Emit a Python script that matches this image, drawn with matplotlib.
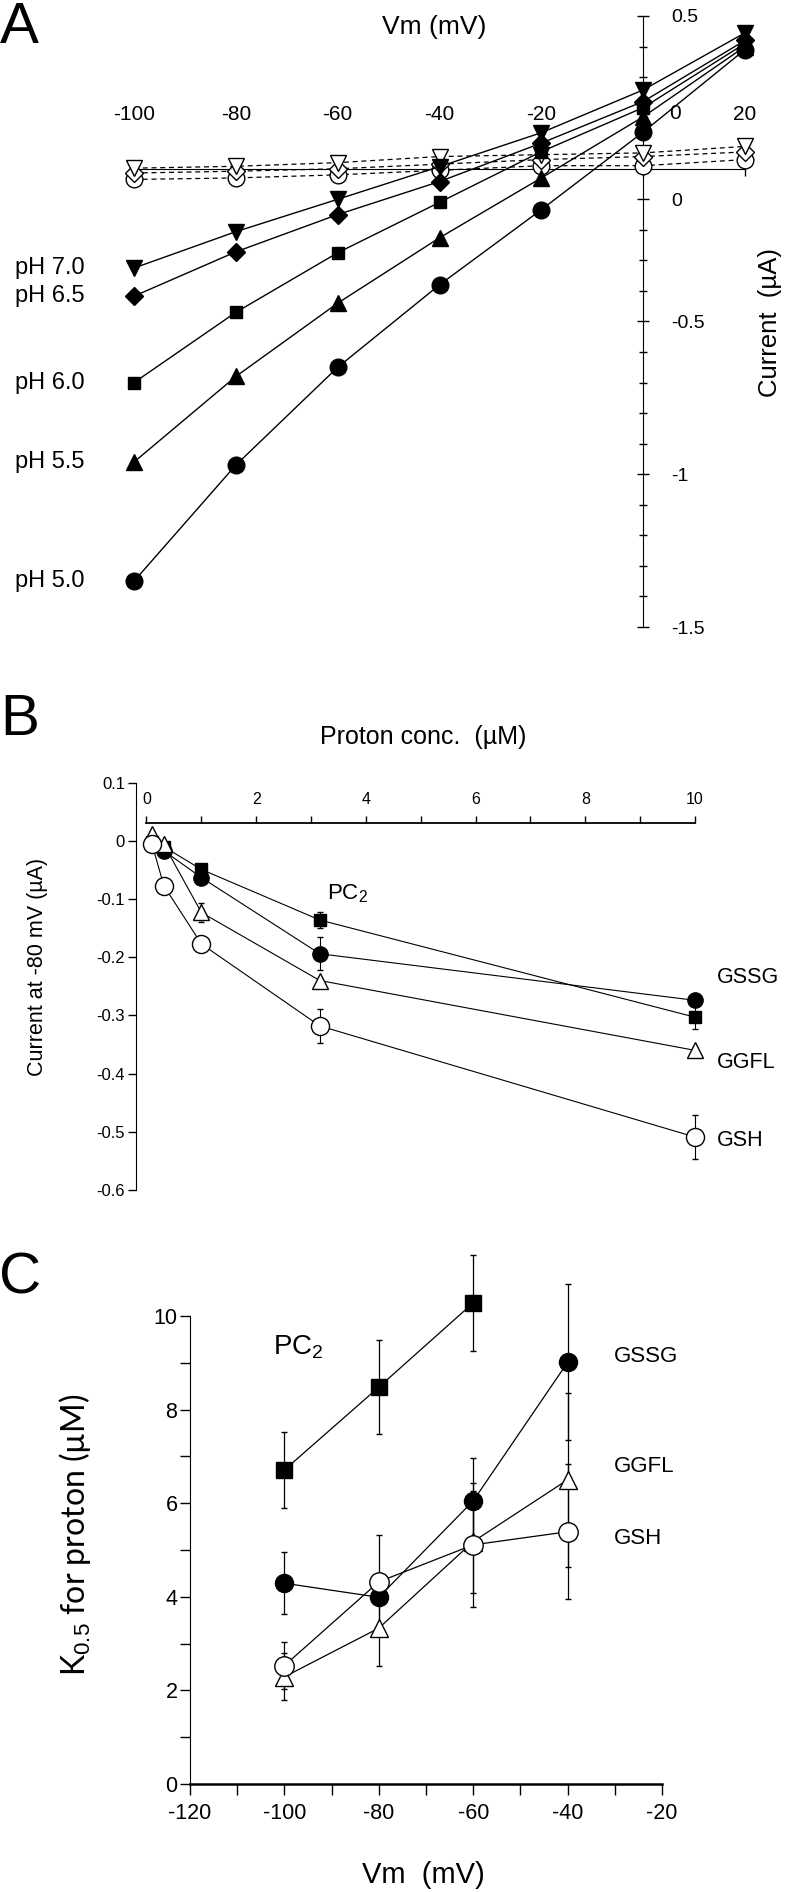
import numpy as np
import matplotlib
matplotlib.use("Agg")
import matplotlib.pyplot as plt
from matplotlib import font_manager as fm
from matplotlib.ticker import MultipleLocator, FixedLocator

# ---- panel A: I-V curves at different pH ----
vm = [-100, -80, -60, -40, -20, 0, 20]
ph_labels = ["pH 7.0", "pH 6.5", "pH 6.0", "pH 5.5", "pH 5.0"]
ph70 = [-0.325, -0.206, -0.100, 0.007, 0.118, 0.258, 0.445]
ph65 = [-0.417, -0.272, -0.150, -0.042, 0.084, 0.220, 0.420]
ph60 = [-0.700, -0.470, -0.275, -0.110, 0.056, 0.200, 0.410]
ph55 = [-0.960, -0.680, -0.440, -0.226, -0.030, 0.170, 0.400]
ph50 = [-1.350, -0.970, -0.650, -0.380, -0.134, 0.120, 0.390]
ctrl_a = [0.002, 0.008, 0.020, 0.040, 0.046, 0.052, 0.073]
ctrl_b = [-0.014, -0.008, 0.000, 0.015, 0.030, 0.040, 0.055]
ctrl_c = [-0.035, -0.030, -0.020, -0.005, 0.010, 0.010, 0.030]

# ---- panel B: current at -80 mV vs proton conc ----
proton = [0.1, 0.316, 1.0, 3.16, 10.0]
b_pc2 = [-0.002, -0.010, -0.049, -0.136, -0.303]
b_pc2_err = [0.0, 0.0, 0.008, 0.013, 0.020]
b_gssg = [-0.003, -0.017, -0.063, -0.194, -0.274]
b_gssg_err = [0.0, 0.0, 0.008, 0.028, 0.010]
b_ggfl = [0.011, -0.006, -0.123, -0.240, -0.360]
b_ggfl_err = [0.0, 0.0, 0.016, 0.0, 0.0]
b_gsh = [-0.005, -0.077, -0.177, -0.318, -0.509]
b_gsh_err = [0.0, 0.0, 0.0, 0.029, 0.038]

# ---- panel C: K0.5 for proton vs Vm ----
vm_c = [-100, -80, -60, -40]
c_pc2 = [6.71, 8.48, 10.28]
c_pc2_err = [0.82, 1.00, 1.03]
c_gssg = [4.29, 3.99, 6.05, 9.01]
c_gssg_err = [0.66, 0.15, 0.92, 1.67]
c_ggfl = [2.29, 3.33, 5.18, 6.50]
c_ggfl_err = [0.50, 0.80, 1.09, 1.86]
c_gsh = [2.53, 4.32, 5.11, 5.39]
c_gsh_err = [0.50, 1.00, 1.33, 1.44]

W, H = 787, 1892

names = {f.name for f in fm.fontManager.ttflist}
arial = "Liberation Sans" if "Liberation Sans" in names else "DejaVu Sans"
plt.rcParams["font.family"] = [arial, "DejaVu Sans"]
plt.rcParams["mathtext.fontset"] = "custom"
plt.rcParams["mathtext.rm"] = arial
plt.rcParams["axes.unicode_minus"] = False


def axrect(l, r, t, b):
    return [l / W, 1 - b / H, (r - l) / W, (b - t) / H]


def ftext(x, y, s, **kw):
    fig.text(x / W, 1 - y / H, s, **kw)


fig = plt.figure(figsize=(W / 100, H / 100), dpi=100)

# ================= A =================
axA = fig.add_axes(axrect(134, 745, 16, 627))
axA.set_xlim(-100, 20)
axA.set_ylim(-1.5, 0.5)
for sp in ["left", "bottom"]:
    axA.spines[sp].set_visible(False)
axA.spines["right"].set_position(("data", 0))
axA.spines["top"].set_position(("data", 0))
axA.spines["top"].set_bounds(-100, 20)
axA.patch.set_visible(False)
axA.xaxis.set_ticks_position("top")
axA.yaxis.set_ticks_position("right")
axA.set_xticks(vm)
axA.set_xticklabels(["-100", "-80", "-60", "-40", "-20", "", "20"])
axA.tick_params(axis="x", direction="in", length=5, width=1, pad=32, labelsize=15)
axA.yaxis.set_major_locator(FixedLocator([0.5, -0.1, -0.5, -1.0, -1.5]))
axA.set_yticklabels(["0.5", "0", "-0.5", "-1", "-1.5"])
axA.yaxis.set_minor_locator(MultipleLocator(0.1))
axA.tick_params(axis="y", which="major", direction="inout", length=8, width=1, pad=16, labelsize=14)
axA.tick_params(axis="y", which="minor", direction="inout", length=6, width=1)
axA.text(6.3, 0.182, "0", ha="center", va="center", fontsize=15)

for vals, mk in zip([ctrl_c, ctrl_b, ctrl_a], ["o", "D", "v"]):
    axA.plot(vm, vals, color="black", lw=0.9, ls=(0, (4, 3)), marker=mk,
             ms=12 if mk != "D" else 9, mfc="white", mec="black", mew=1, clip_on=False, zorder=3)

series = [ph70, ph65, ph60, ph55, ph50]
marks = ["v", "D", "s", "^", "o"]
sizes = [12, 9, 9, 12, 12]
for vals, mk, sz in zip(series, marks, sizes):
    axA.plot(vm, vals, color="black", lw=1, marker=mk, ms=sz, mfc="black", mec="black",
             clip_on=False, zorder=4)

for lab, vals in zip(ph_labels, series):
    axA.text(-123.4, vals[0], lab, ha="left", va="center", fontsize=17)

ftext(19, 1, "A", fontsize=42, ha="center", va="top")
ftext(434, 27, "Vm (mV)", fontsize=19, ha="center", va="center")
ftext(770, 322, "Current  (µA)", fontsize=18.5, rotation=90, ha="center", va="center")

# ================= B =================
axB = fig.add_axes(axrect(136, 695, 782.7, 1190))
axB.set_xlim(-0.191, 10)
axB.set_ylim(-0.6, 0.1)
axB.spines["right"].set_visible(False)
axB.spines["bottom"].set_visible(False)
axB.spines["top"].set_position(("data", 0.03))
axB.spines["top"].set_bounds(0, 10)
axB.spines["top"].set_linewidth(1.3)
axB.patch.set_visible(False)
axB.xaxis.set_ticks_position("top")
axB.set_xticks([0, 2, 4, 6, 8, 10])
axB.xaxis.set_minor_locator(FixedLocator([1, 3, 5, 7, 9]))
axB.tick_params(axis="x", which="both", direction="out", length=5, width=1, pad=7, labelsize=11.5)
axB.set_yticks([0.1, 0, -0.1, -0.2, -0.3, -0.4, -0.5, -0.6])
axB.set_yticklabels(["0.1", "0", "-0.1", "-0.2", "-0.3", "-0.4", "-0.5", "-0.6"])
axB.tick_params(axis="y", direction="out", length=6, width=1, pad=2, labelsize=12)

b_sets = [
    (b_pc2, b_pc2_err, "s", "black", 8),
    (b_gssg, b_gssg_err, "o", "black", 11),
    (b_ggfl, b_ggfl_err, "^", "white", 12),
    (b_gsh, b_gsh_err, "o", "white", 13),
]
for vals, err, mk, fc, sz in b_sets:
    axB.errorbar(proton, vals, yerr=err, color="black", lw=0.8, elinewidth=0.8, capsize=2.5,
                 marker=mk, ms=sz, mfc=fc, mec="black", mew=1, clip_on=False, zorder=3)

axB.text(3.3, -0.09, "PC$_2$", fontsize=16, ha="left", va="center")
ftext(717, 977, "GSSG", fontsize=15.5, ha="left", va="center")
ftext(717, 1063, "GGFL", fontsize=15.5, ha="left", va="center")
ftext(717, 1140, "GSH", fontsize=15.5, ha="left", va="center")
ftext(20, 720, "B", fontsize=42, ha="center", va="center")
ftext(423, 737, "Proton conc.  (µM)", fontsize=18, ha="center", va="center")
ftext(38, 967, "Current at -80 mV (µA)", fontsize=15.5, rotation=90,
      ha="center", va="center")

# ================= C =================
axC = fig.add_axes(axrect(190, 662, 1316, 1784))
axC.set_xlim(-120, -20)
axC.set_ylim(0, 10)
axC.spines["right"].set_visible(False)
axC.spines["top"].set_visible(False)
axC.spines["bottom"].set_linewidth(1.8)
axC.patch.set_visible(False)
axC.set_xticks([-120, -100, -80, -60, -40, -20])
axC.xaxis.set_minor_locator(MultipleLocator(10))
axC.set_yticks([0, 2, 4, 6, 8, 10])
axC.yaxis.set_minor_locator(MultipleLocator(1))
axC.tick_params(axis="x", which="both", direction="out", length=8, width=1, pad=6, labelsize=15.5)
axC.tick_params(axis="y", which="both", direction="out", length=7, width=1, pad=2, labelsize=15.5)

c_sets = [
    (vm_c[:3], c_pc2, c_pc2_err, "s", "black", 11),
    (vm_c, c_gssg, c_gssg_err, "o", "black", 13),
    (vm_c, c_ggfl, c_ggfl_err, "^", "white", 13),
    (vm_c, c_gsh, c_gsh_err, "o", "white", 14),
]
for xs, vals, err, mk, fc, sz in c_sets:
    axC.errorbar(xs, vals, yerr=err, color="black", lw=0.9, elinewidth=0.9, capsize=2.5,
                 marker=mk, ms=sz, mfc=fc, mec="black", mew=1, clip_on=False, zorder=3)

ftext(273, 1347, "PC$_2$", fontsize=20, ha="left", va="center")
ftext(614, 1357, "GSSG", fontsize=16, ha="left", va="center")
ftext(614, 1467, "GGFL", fontsize=16, ha="left", va="center")
ftext(614, 1538, "GSH", fontsize=16, ha="left", va="center")
ftext(20, 1278, "C", fontsize=42, ha="center", va="center")
ftext(423, 1875, "Vm  (mV)", fontsize=21, ha="center", va="center")
ftext(75, 1535, "K$_{0.5}$ for proton (µM)", fontsize=23, family=["Lato", "DejaVu Sans"],
      rotation=90, ha="center", va="center")

fig.savefig("out.png", dpi=100)
